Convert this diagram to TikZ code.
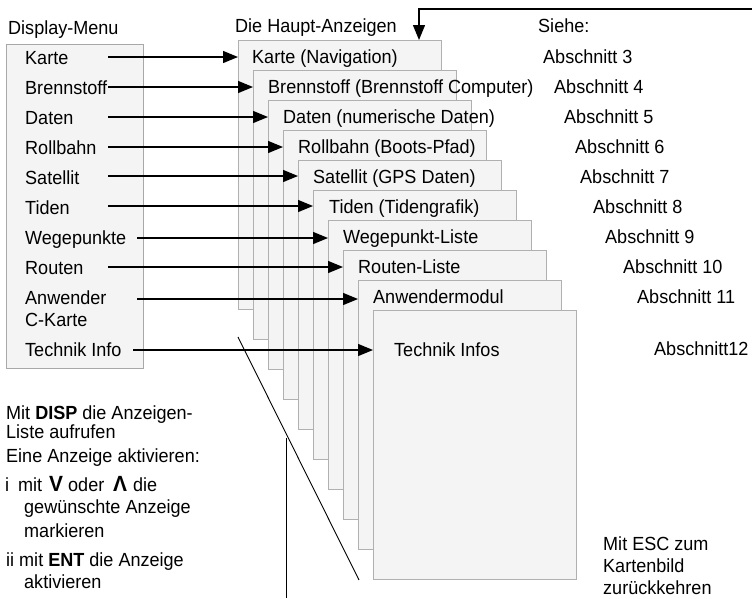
\documentclass[tikz,border=0pt]{standalone}
\usepackage{fontspec}
\setmainfont{Liberation Sans}[FakeStretch=0.95]
\usetikzlibrary{arrows.meta}
\definecolor{panelfill}{HTML}{F4F4F4}
\definecolor{panelline}{HTML}{B0B0B0}
\definecolor{menuline}{HTML}{A8A8A8}
\begin{document}
\begin{tikzpicture}[x=1pt,y=-1pt,
  panelbox/.style={draw=panelline, fill=panelfill, line width=1.2pt, minimum width=203pt, minimum height=269pt, anchor=north west, inner sep=0pt},
  txt/.style={anchor=base west, inner sep=0pt, font=\fontsize{19}{22}\selectfont},
  bigsym/.style={anchor=base west, inner sep=0pt, font=\fontsize{22}{22}\selectfont\bfseries},
  arr/.style={line width=1.3pt, -{Triangle[length=15pt,width=12pt]}},
  thinline/.style={line width=0.9pt}]
\useasboundingbox (0,0) rectangle (752,598);

% Display menu box
\node[draw=menuline, fill=panelfill, line width=1.2pt, anchor=north west, minimum width=137pt, minimum height=324pt, inner sep=0pt] (menu) at (6,44) {};
\node[txt] (menutitle) at (8,34) {Display-Menu};

\node[txt] (m0) at (25,64) {Karte};
\node[txt] (m1) at (25,94) {Brennstoff};
\node[txt] (m2) at (25,124) {Daten};
\node[txt] (m3) at (25,154) {Rollbahn};
\node[txt] (m4) at (25,184) {Satellit};
\node[txt] (m5) at (25,214) {Tiden};
\node[txt] (m6) at (25,244) {Wegepunkte};
\node[txt] (m7) at (25,274) {Routen};
\node[txt] (m8) at (25,304) {Anwender};
\node[txt] (m8b) at (25,326) {C-Karte};
\node[txt] (m9) at (25,356) {Technik Info};

% Stacked panels
\foreach \i in {0,...,9}{
  \node[panelbox] (p\i) at ({238+15*\i},{40+30*\i}) {};
}
\node[txt] (t0) at (252,63) {Karte (Navigation)};
\node[txt] (t1) at (268,93) {Brennstoff (Brennstoff Computer)};
\node[txt] (t2) at (283,123) {Daten (numerische Daten)};
\node[txt] (t3) at (298,153) {Rollbahn (Boots-Pfad)};
\node[txt] (t4) at (313,183) {Satellit (GPS Daten)};
\node[txt] (t5) at (329,213) {Tiden (Tidengrafik)};
\node[txt] (t6) at (343,243) {Wegepunkt-Liste};
\node[txt] (t7) at (358,273) {Routen-Liste};
\node[txt] (t8) at (373,303) {Anwendermodul};
\node[txt] (t9) at (394,356) {Technik Infos};

\node[txt] (haupt) at (235,32) {Die Haupt-Anzeigen};
\node[txt] (siehe) at (538,32) {Siehe:};

% Abschnitt labels
\node[txt] (a3) at (543,63) {Abschnitt 3};
\node[txt] (a4) at (554,93) {Abschnitt 4};
\node[txt] (a5) at (564,123) {Abschnitt 5};
\node[txt] (a6) at (575,153) {Abschnitt 6};
\node[txt] (a7) at (580,183) {Abschnitt 7};
\node[txt] (a8) at (593,213) {Abschnitt 8};
\node[txt] (a9) at (605,243) {Abschnitt 9};
\node[txt] (a10) at (623,273) {Abschnitt 10};
\node[txt] (a11) at (637,303) {Abschnitt 11};
\node[txt] (a12) at (654,355) {Abschnitt12};

% arrow start coordinates
\coordinate (s0) at (108,57);
\coordinate (s1) at (108,87);
\coordinate (s2) at (108,117);
\coordinate (s3) at (108,147);
\coordinate (s4) at (108,176);
\coordinate (s5) at (108,206);
\coordinate (s6) at (137,238);
\coordinate (s7) at (108,267);
\coordinate (s8) at (137,299);
\coordinate (s9) at (133,350);
\foreach \i in {0,...,9}{
  \draw[arr] (s\i) -- (s\i -| p\i.west);
}

% ESC return arrow
\coordinate (escstart) at (752,9);
\coordinate (esccorner) at (419,9);
\draw[arr] (escstart) -- (esccorner) -- (esccorner |- p0.north);

% pointer lines
\coordinate (d1) at (238,337);
\coordinate (d2) at (359,580);
\draw[thinline] (d1) -- (d2);
\coordinate (v1) at (286,438);
\coordinate (v2) at (286,598);
\draw[thinline] (v1) -- (v2);

% bottom left instructions
\node[txt] (i1) at (6,419) {Mit \textbf{DISP} die Anzeigen-};
\node[txt] (i2) at (6,438) {Liste aufrufen};
\node[txt] (i3) at (6,462) {Eine Anzeige aktivieren:};
\node[txt] (i4a) at (5,491) {i};
\node[txt] (i4b) at (18,491) {mit};
\node[bigsym] (i4c) at (49,491) {V};
\node[txt] (i4d) at (68,491) {oder};
\node[bigsym] (i4e) at (113,491) {Λ};
\node[txt] (i4f) at (133,491) {die};
\node[txt] (i5) at (24,513) {gewünschte Anzeige};
\node[txt] (i6) at (24,537) {markieren};
\node[txt] (i7) at (6,566) {ii mit \textbf{ENT} die Anzeige};
\node[txt] (i8) at (24,588) {aktivieren};

% ESC note
\node[txt] (e1) at (603,550) {Mit ESC zum};
\node[txt] (e2) at (603,572) {Kartenbild};
\node[txt] (e3) at (603,594) {zurückkehren};
\end{tikzpicture}
\end{document}
